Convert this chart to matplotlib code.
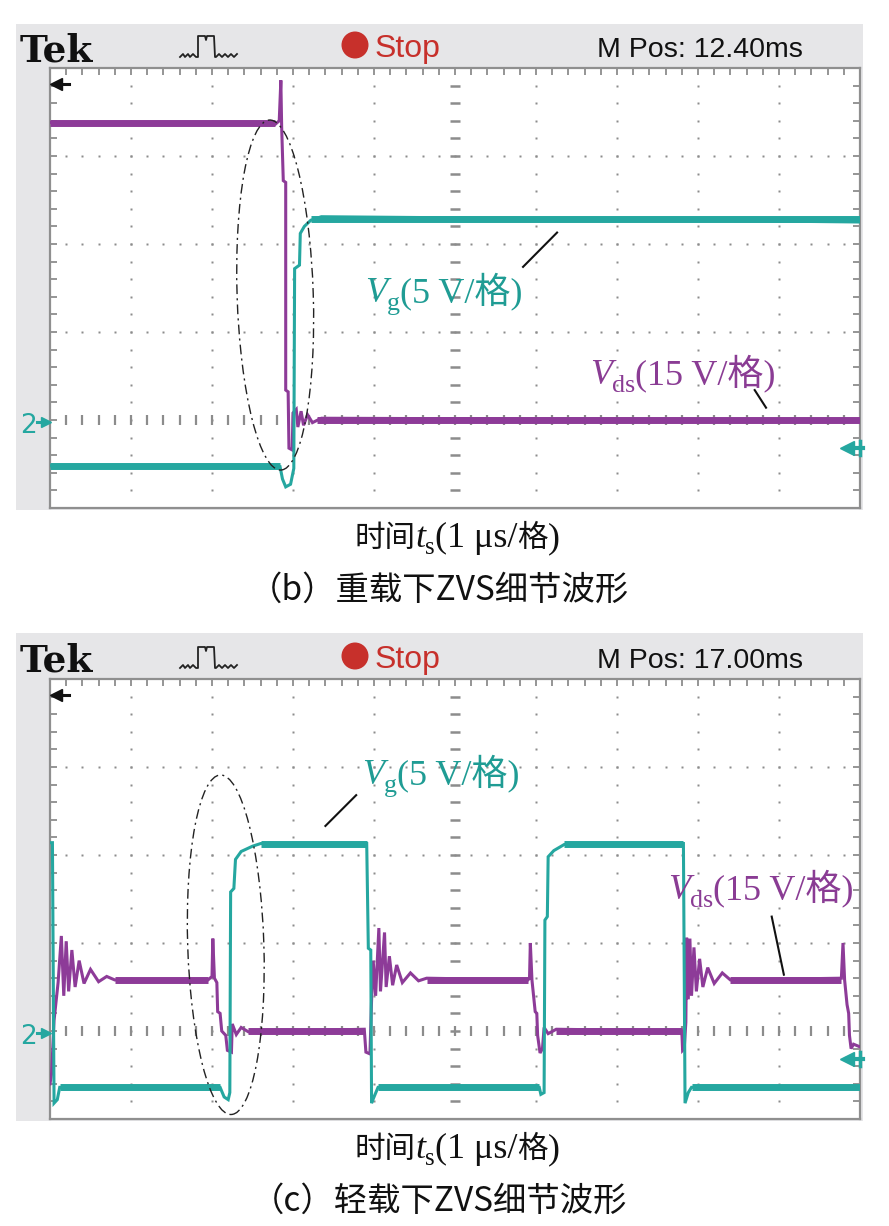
import numpy as np
import matplotlib
matplotlib.use("Agg")
import matplotlib.pyplot as plt
from matplotlib.patches import Rectangle, Ellipse

W, H, DPI = 889, 1226, 100

# ---------------- data (time in us, 1 us/div; amplitude in screen divisions) ----------------
# panel (b): heavy load
vds_b_t = [0.00, 2.78, 2.83, 2.85, 2.86, 2.88, 2.91, 2.91, 2.94, 2.95, 2.99, 3.00, 3.04, 3.06, 3.10, 3.13, 3.18, 3.24, 3.35, 10.0]
vds_b_v = [4.38, 4.36, 4.40, 4.86, 4.33, 3.72, 3.70, 1.34, 1.32, 0.68, 0.66, 1.08, 1.12, 0.92, 1.10, 0.94, 1.06, 0.97, 1.02, 1.00]
vg_b_t = [0.00, 2.84, 2.87, 2.91, 2.97, 3.01, 3.02, 3.08, 3.09, 3.14, 3.22, 3.35, 6.00, 10.0]
vg_b_v = [0.48, 0.47, 0.33, 0.24, 0.27, 0.45, 2.72, 2.76, 3.12, 3.20, 3.27, 3.31, 3.29, 3.25]
vds_b_plateau_start = [0.00, 3.30]
vds_b_plateau_end = [2.78, 10.0]
vds_b_plateau_level = [4.38, 1.00]
vg_b_plateau_start = [0.00, 3.22]
vg_b_plateau_end = [2.84, 10.0]
vg_b_plateau_level = [0.48, 3.28]

# panel (c): light load
vg_c_t = [0.00, 0.03, 0.05, 0.09, 0.12, 2.10, 2.15, 2.20, 2.22, 2.23, 2.27, 2.29, 2.36, 2.50, 2.60,
          3.91, 3.93, 3.96, 3.97, 4.00, 4.05, 6.04, 6.06, 6.10, 6.11, 6.14, 6.15, 6.22, 6.35,
          7.82, 7.84, 7.88, 7.92, 10.0]
vg_c_v = [3.14, 3.14, 0.18, 0.22, 0.36, 0.36, 0.25, 0.22, 0.30, 2.58, 2.62, 2.95, 3.04, 3.10, 3.13,
          3.13, 1.94, 1.92, 0.18, 0.25, 0.36, 0.36, 0.28, 0.30, 2.26, 2.30, 2.98, 3.05, 3.12,
          3.13, 0.18, 0.30, 0.36, 0.36]
vds_c_t = [0.00, 0.02, 0.05, 0.10, 0.14, 0.17, 0.20, 0.23, 0.27, 0.31, 0.36, 0.42, 0.50, 0.60, 0.70, 0.80,
           1.95, 2.00, 2.01, 2.03, 2.06, 2.07, 2.10, 2.12, 2.17, 2.19, 2.24, 2.25, 2.30, 2.36, 2.45,
           3.88, 3.90, 3.95, 3.97, 3.99, 4.02, 4.06, 4.08, 4.13, 4.15, 4.19, 4.23, 4.28, 4.35, 4.45, 4.55, 4.65,
           5.90, 5.92, 5.93, 5.95, 5.97, 5.99, 6.01, 6.02, 6.05, 6.08, 6.10, 6.15, 6.25,
           7.80, 7.81, 7.83, 7.85, 7.86, 7.88, 7.90, 7.92, 7.95, 7.98, 8.02, 8.06, 8.12, 8.20, 8.30, 8.40,
           9.77, 9.79, 9.81, 9.84, 9.86, 9.87, 9.89, 9.92, 10.0]
vds_c_v = [0.40, 0.52, 1.12, 1.55, 2.08, 1.40, 2.02, 1.45, 1.92, 1.50, 1.80, 1.54, 1.70, 1.56, 1.62, 1.58,
           1.58, 1.62, 2.05, 1.60, 1.55, 1.22, 1.20, 1.00, 0.95, 0.78, 0.76, 1.08, 0.96, 1.04, 0.99,
           1.02, 0.76, 0.74, 1.35, 1.80, 1.40, 2.17, 1.45, 2.12, 1.50, 1.85, 1.52, 1.75, 1.55, 1.66, 1.57, 1.60,
           1.58, 1.60, 2.00, 1.58, 1.40, 1.22, 1.20, 0.95, 0.75, 0.80, 1.04, 0.97, 1.02,
           1.00, 0.78, 0.80, 1.10, 2.06, 1.36, 2.05, 1.40, 1.95, 1.45, 1.82, 1.50, 1.72, 1.54, 1.66, 1.58,
           1.60, 2.00, 1.58, 1.30, 1.20, 0.95, 0.80, 0.85, 0.82]
vds_c_plateau_start = [0.80, 2.45, 4.65, 6.25, 8.40]
vds_c_plateau_end = [1.95, 3.88, 5.90, 7.80, 9.77]
vds_c_plateau_level = [1.58, 1.00, 1.58, 1.00, 1.58]
vg_c_plateau_start = [0.12, 2.60, 4.05, 6.35, 7.92]
vg_c_plateau_end = [2.10, 3.91, 6.04, 7.82, 10.0]
vg_c_plateau_level = [0.36, 3.13, 0.36, 3.13, 0.36]

mpos_labels = ["M Pos: 12.40ms", "M Pos: 17.00ms"]
captions = ["（b）重载下ZVS细节波形", "（c）轻载下ZVS细节波形"]

# ---------------- style ----------------
CYAN = "#25a7a0"
PURPLE = "#8d3b98"
CYAN_TXT = "#1f9c94"
PURPLE_TXT = "#8a3c94"
RED = "#c7302b"
GREY_BG = "#e6e6e8"
GRID = "#8c8c8c"

plt.rcParams["font.family"] = ["DejaVu Sans"]
fig = plt.figure(figsize=(W / DPI, H / DPI), dpi=DPI)
fig.patch.set_facecolor("white")
renderer = fig.canvas.get_renderer()


def fxy(x, y):
    return x / W, 1 - y / H


def text_runs(x, y, parts, ha="left"):
    objs = []
    for s, kw, dy in parts:
        t = fig.text(0, 0, s, va="baseline", ha="left", **kw)
        objs.append((t, dy))
    widths = [t.get_window_extent(renderer).width for t, _ in objs]
    total = sum(widths)
    cur = x - total / 2 if ha == "center" else x
    for (t, dy), w in zip(objs, widths):
        t.set_position(fxy(cur, y + dy))
        cur += w


SERIF = ["Liberation Serif", "Noto Sans CJK SC"]
CJK = ["Noto Sans CJK SC", "Liberation Serif"]


def label(x, y, main, sub, rest, color, size):
    parts = [
        (main, dict(family="Liberation Serif", style="italic", fontsize=size, color=color), 0),
        (sub, dict(family="Liberation Serif", fontsize=size * 0.72, color=color), 8),
        (rest, dict(family=SERIF, fontsize=size, color=color), 0),
    ]
    text_runs(x, y, parts)


def draw_panel(off, frame_top, vg_t, vg_v, vds_t, vds_v, vg_ps, vg_pe, vg_pl,
               vds_ps, vds_pe, vds_pl, ell, vg_lab, vds_lab, vg_lead, vds_lead,
               mpos, caption):
    # grey frame
    x0, y0 = fxy(16, 510 + off)
    fig.add_artist(Rectangle((x0, y0), (863 - 16) / W, (510 + off - frame_top) / H,
                             transform=fig.transFigure, facecolor=GREY_BG, edgecolor="none", zorder=0))
    # header
    fig.text(*fxy(20, 61 + off), "Tek", family="DejaVu Serif", weight="bold", fontsize=27,
             va="baseline", color="#111111")
    icon_x = [180, 183, 185, 188, 190, 193, 196, 198, 198, 205, 206, 207, 214, 215, 216, 219, 222, 225, 228, 231, 234, 237]
    icon_y = [57, 54, 57, 54, 57, 54, 57, 57, 36, 36, 40, 36, 36, 57, 57, 54, 57, 54, 57, 54, 57, 54]
    fig.add_artist(plt.Line2D([x / W for x in icon_x], [1 - (y + off) / H for y in icon_y],
                              transform=fig.transFigure, color="#222222", lw=1.3))
    cx, cy = fxy(355, 45 + off)
    fig.add_artist(Ellipse((cx, cy), 27 / W, 27 / H, transform=fig.transFigure,
                           facecolor=RED, edgecolor="none"))
    fig.text(*fxy(375, 57 + off), "Stop", family="Liberation Sans",
             fontsize=23, color=RED, va="baseline")
    fig.text(*fxy(597, 57 + off), mpos, family="Liberation Sans",
             fontsize=20.5, color="#111111", va="baseline")

    # screen
    l, b = fxy(50, 508 + off)
    ax = fig.add_axes([l, b, 810 / W, 440 / H])
    ax.set_xlim(0, 10)
    ax.set_ylim(0, 5)
    ax.set_xticks([])
    ax.set_yticks([])
    ax.set_facecolor("white")
    for s in ax.spines.values():
        s.set_color("#8f8f8f")
        s.set_linewidth(1.6)

    xm = np.arange(0, 10.001, 0.2)
    ym = np.arange(0, 5.001, 0.2)
    for gx in [1, 2, 3, 4, 6, 7, 8, 9]:
        ax.plot(np.full(len(ym) - 2, gx), ym[1:-1], ls="none", marker="s", ms=1.7,
                mfc=GRID, mec="none", zorder=1)
    for gy in [2, 3, 4]:
        ax.plot(xm[1:-1], np.full(len(xm) - 2, gy), ls="none", marker="s", ms=1.7,
                mfc=GRID, mec="none", zorder=1)
    ax.plot(xm[1:-1], np.full(len(xm) - 2, 1), ls="none", marker="|", ms=7, mew=1.6,
            color=GRID, zorder=1)
    ax.plot(np.full(len(ym) - 2, 5), ym[1:-1], ls="none", marker="_", ms=7, mew=1.8,
            color=GRID, zorder=1)
    ax.vlines(xm[1:-1], 5 - 0.08, 5, color=GRID, lw=1.3, zorder=1)
    ax.hlines(ym[1:-1], 0, 0.09, color=GRID, lw=1.3, zorder=1)
    ax.hlines(ym[1:-1], 10 - 0.09, 10, color=GRID, lw=1.3, zorder=1)

    # traces
    ax.plot(vds_t, vds_v, color=PURPLE, lw=2.2, zorder=3, solid_joinstyle="miter")
    for s0, s1, lv in zip(vds_ps, vds_pe, vds_pl):
        ax.plot([s0, s1], [lv, lv], color=PURPLE, lw=5.0, solid_capstyle="butt", zorder=3)
    ax.plot(vg_t, vg_v, color=CYAN, lw=2.2, zorder=4, solid_joinstyle="miter")
    for s0, s1, lv in zip(vg_ps, vg_pe, vg_pl):
        ax.plot([s0, s1], [lv, lv], color=CYAN, lw=5.0, solid_capstyle="butt", zorder=4)

    # markers
    ax.plot([0.08, 0.24], [4.82, 4.82], color="#111111", lw=2.2, clip_on=False, zorder=6)
    ax.plot([0.08], [4.82], marker="<", ms=8, color="#111111", clip_on=False, zorder=6)
    ax.plot([9.84, 10.04], [0.68, 0.68], color=CYAN, lw=3, clip_on=False, zorder=6)
    ax.plot([9.84], [0.68], marker="<", ms=10, color=CYAN, clip_on=False, zorder=6)
    ax.plot([10.0, 10.0], [0.60, 0.76], color=CYAN, lw=2.5, clip_on=False, zorder=6)
    fig.text(*fxy(20, 433 + off), "2", fontsize=19, color=CYAN, va="baseline")
    ax.plot([-0.16, -0.05], [0.98, 0.98], color=CYAN, lw=2.2, clip_on=False, zorder=6)
    ax.plot([-0.05], [0.98], marker=">", ms=7, color=CYAN, clip_on=False, zorder=6)

    # ellipse
    ax.add_patch(Ellipse(ell[:2], ell[2], ell[3], angle=ell[4], fill=False, ec="#222222",
                         lw=1.0, ls=(0, (7, 3, 1.5, 3)), zorder=5))
    # leaders
    ax.plot(vg_lead[0], vg_lead[1], color="#111111", lw=1.5, zorder=6)
    ax.plot(vds_lead[0], vds_lead[1], color="#111111", lw=1.5, zorder=6)

    label(vg_lab[0], vg_lab[1] + off, "V", "g", "(5 V/格)", CYAN_TXT, 26)
    label(vds_lab[0], vds_lab[1] + off, "V", "ds", "(15 V/格)", PURPLE_TXT, 26)

    # captions
    text_runs(457, 547 + off, [
        ("时间", dict(family=CJK, fontsize=22, color="#111111"), 0),
        ("t", dict(family="Liberation Serif", style="italic", fontsize=26, color="#111111"), 0),
        ("s", dict(family="Liberation Serif", fontsize=18, color="#111111"), 7),
        ("(1 μs/", dict(family="Liberation Serif", fontsize=26, color="#111111"), 0),
        ("格", dict(family=CJK, fontsize=22, color="#111111"), 0),
        (")", dict(family="Liberation Serif", fontsize=26, color="#111111"), 0),
    ], ha="center")
    text_runs(439, 600 + off, [
        (caption, dict(family=CJK, fontsize=24, color="#111111"), 0),
    ], ha="center")


draw_panel(0, 24, vg_b_t, vg_b_v, vds_b_t, vds_b_v,
           vg_b_plateau_start, vg_b_plateau_end, vg_b_plateau_level,
           vds_b_plateau_start, vds_b_plateau_end, vds_b_plateau_level,
           (2.78, 2.42, 0.94, 3.98, 2.0), (365, 302), (590, 384),
           ([5.84, 6.26], [2.74, 3.13]), ([8.70, 8.84], [1.34, 1.14]),
           mpos_labels[0], captions[0])

draw_panel(611, 633, vg_c_t, vg_c_v, vds_c_t, vds_c_v,
           vg_c_plateau_start, vg_c_plateau_end, vg_c_plateau_level,
           vds_c_plateau_start, vds_c_plateau_end, vds_c_plateau_level,
           (2.17, 1.98, 0.94, 3.86, 2.0), (362, 173), (668, 288),
           ([3.40, 3.78], [3.33, 3.68]), ([8.91, 9.06], [2.30, 1.64]),
           mpos_labels[1], captions[1])

fig.savefig("out.png", dpi=DPI)
